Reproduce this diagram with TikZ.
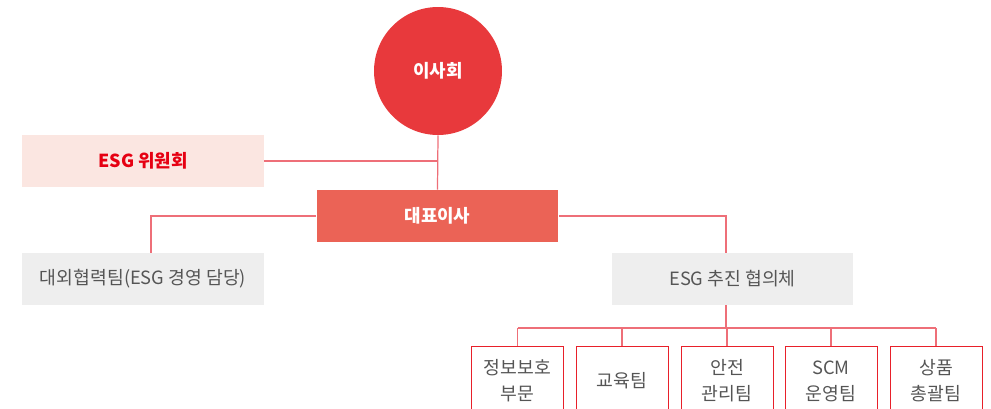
\documentclass[tikz,border=0pt]{standalone}
\usepackage{fontspec}
\setmainfont{Noto Sans CJK KR}
\usetikzlibrary{positioning}

\definecolor{boardred}{HTML}{E8393C}
\definecolor{ceored}{HTML}{EB6356}
\definecolor{compink}{HTML}{FBE6E1}
\definecolor{comtext}{HTML}{E60012}
\definecolor{boxgray}{HTML}{EEEEEE}
\definecolor{textgray}{HTML}{555555}
\definecolor{linered}{HTML}{EE6F78}
\definecolor{teamred}{HTML}{E8202A}

\begin{document}
\begin{tikzpicture}[x=0.02cm, y=-0.02cm,
  every node/.style={font=\fontsize{10.4}{14.7}\selectfont, inner sep=0pt},
  wide/.style={minimum width=4.84cm, minimum height=1.04cm},
  graybox/.style={wide, fill=boxgray, text=textgray},
  teambox/.style={draw=teamred, line width=0.55pt, minimum width=1.84cm, minimum height=1.4cm, text=textgray, align=center},
  link/.style={draw=linered, line width=0.7pt}]
\useasboundingbox (0,0) rectangle (991,409);
\clip (0,0) rectangle (991,409);

% board
\node[circle, fill=boardred, minimum size=2.56cm, text=white, font=\fontsize{10.2}{12}\bfseries] (board) at (438,71) {이사회};

% ESG committee
\node[wide, fill=compink, text=comtext, font=\fontsize{10.2}{12}\bfseries] (esgcom) at (143,161) {ESG 위원회};

% CEO
\node[wide, fill=ceored, text=white, font=\fontsize{10.2}{12}\bfseries] (ceo) at (437.5,216) {대표이사};

% second level
\node[graybox] (extteam) at (143,279) {대외협력팀(ESG 경영 담당)};
\node[graybox] (council) at (732.5,279) {ESG 추진 협의체};

% teams
\node[teambox] (t1) at (517.5,381) {정보보호\\부문};
\node[teambox] (t2) at (622,381) {교육팀};
\node[teambox] (t3) at (727,381) {안전\\관리팀};
\node[teambox] (t4) at (831,381) {SCM\\운영팀};
\node[teambox] (t5) at (936,381) {상품\\총괄팀};

% connectors
\coordinate (hub) at (726,328);
\draw[link] (board.south) -- (ceo.north);
\draw[link] (esgcom.east) -- (esgcom.east -| board.south);
\draw[link] (ceo.west) -| ([xshift=0.16cm]extteam.north);
\draw[link] (ceo.east) -| (council.north -| hub);
\draw[link] (council.south -| hub) -- (hub);
\draw[link] (hub -| t1.north) -- (hub -| t5.north);
\foreach \t in {t1,t2,t3,t4,t5}
  \draw[link] (hub -| \t.north) -- (\t.north);
\end{tikzpicture}
\end{document}
